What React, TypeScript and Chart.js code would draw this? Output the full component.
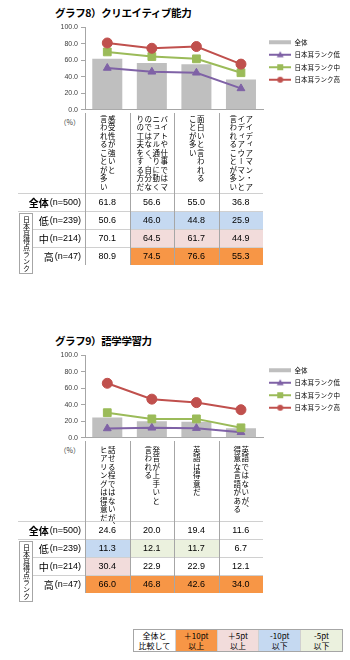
import React, { useEffect, useRef } from 'react';
import { Chart, registerables } from 'chart.js';
Chart.register(...registerables);

// ---------- data ----------
const seriesNames = ['全体', '日本耳ランク低', '日本耳ランク中', '日本耳ランク高'];
const rowHeads = ['全体', '低', '中', '高'];
const rowCounts = ['(n=500)', '(n=239)', '(n=214)', '(n=47)'];
const rankBoxLabel = '日本耳得点ランク';
const percentLabel = '（%）';
const yTickValues = [0, 20, 40, 60, 80, 100];

const g8Title = 'グラフ8）クリエイティブ能力';
const g8Categories = [
  ['感受性が強いと', '言われることが多い'],
  ['バイトや仕事ではマ', 'ニュアル通りに動く', 'のではなく、自分な', 'りの工夫をする方だ'],
  ['面白いと言われる', 'ことが多い'],
  ['アイディアマン・ア', 'イディアウーマンと', '言われることが多い'],
];
const g8Total = [61.8, 56.6, 55.0, 36.8];
const g8Low = [50.6, 46.0, 44.8, 25.9];
const g8Mid = [70.1, 64.5, 61.7, 44.9];
const g8High = [80.9, 74.5, 76.6, 55.3];
const g8Marked = [[0, 1, 1, 1], [0, 1, 1, 1], [0, 1, 1, 1]];

const g9Title = 'グラフ9）語学学習力';
const g9Categories = [
  ['話せる程ではないが、', 'ヒアリングは得意だ'],
  ['発音が上手いと', '言われる'],
  ['英語は得意だ'],
  ['英語ではないが、', '得意な言語がある'],
];
const g9Total = [24.6, 20.0, 19.4, 11.6];
const g9Low = [11.3, 12.1, 11.7, 6.7];
const g9Mid = [30.4, 22.9, 22.9, 12.1];
const g9High = [66.0, 46.8, 42.6, 34.0];
const g9Marked = [[1, 1, 1, 1], [1, 1, 1, 1], [1, 1, 1, 1]];

const keyLabels = [['全体と', '比較して'], ['＋10pt', '以上'], ['＋5pt', '以上'], ['-10pt', '以下'], ['-5pt', '以下']];

// ---------- styles ----------
const FONT = '"Noto Sans CJK JP", "Noto Sans", sans-serif';
const NUMFONT = '"Liberation Sans", Arial, sans-serif';
const C_BAR = '#bfbfbf';
const C_LOW = '#7f62a6';
const C_MID = '#9bbb59';
const C_HIGH = '#c0504d';
const C_AXIS = '#a6a6a6';
const C_LINE = '#d0d0d0';
const C_ORANGE = '#f79646';
const C_PINK = '#f2dcdb';
const C_BLUE = '#c5d9f1';
const C_GREEN = '#ebf1de';
const keyColors = ['#ffffff', C_ORANGE, C_PINK, C_BLUE, C_GREEN];

const PLOT_L = 85;
const PLOT_R = 263;
const CAT_W = (PLOT_R - PLOT_L) / 4;

function cellColor(diff: number) {
  if (diff >= 10) return C_ORANGE;
  if (diff >= 5) return C_PINK;
  if (diff <= -10) return C_BLUE;
  if (diff <= -5) return C_GREEN;
  return 'transparent';
}

function makeIcon(kind: string, color: string) {
  const c = document.createElement('canvas');
  c.width = 22;
  c.height = 10;
  const x = c.getContext('2d')!;
  if (kind === 'bar') {
    x.fillStyle = color;
    x.fillRect(0, 3, 22, 4);
    return c;
  }
  x.strokeStyle = color;
  x.lineWidth = 2;
  x.beginPath();
  x.moveTo(0, 5);
  x.lineTo(22, 5);
  x.stroke();
  x.fillStyle = color;
  if (kind === 'tri') {
    x.beginPath();
    x.moveTo(11, 1.5);
    x.lineTo(14.5, 7.5);
    x.lineTo(7.5, 7.5);
    x.closePath();
    x.fill();
  } else if (kind === 'rect') {
    x.fillRect(8, 2, 6, 6);
  } else {
    x.beginPath();
    x.arc(11, 5, 3, 0, Math.PI * 2);
    x.fill();
  }
  return c;
}

type GraphProps = {
  top: number;
  labelTop: number;
  title: string;
  cats: string[][];
  total: number[];
  low: number[];
  mid: number[];
  high: number[];
  marked: number[][];
};

function Graph({ top, labelTop, title, cats, total, low, mid, high, marked }: GraphProps) {
  const ref = useRef<HTMLCanvasElement>(null);

  useEffect(() => {
    const icons = [
      makeIcon('bar', C_BAR),
      makeIcon('tri', C_LOW),
      makeIcon('rect', C_MID),
      makeIcon('circle', C_HIGH),
    ];
    const chart = new Chart(ref.current!, {
      data: {
        labels: cats.map((c) => c.join('')),
        datasets: [
          {
            type: 'bar',
            label: seriesNames[0],
            data: total,
            backgroundColor: C_BAR,
            barPercentage: 0.674,
            categoryPercentage: 1,
            order: 4,
          },
          {
            type: 'line',
            label: seriesNames[1],
            data: low,
            borderColor: C_LOW,
            backgroundColor: C_LOW,
            borderWidth: 2,
            pointStyle: 'triangle',
            pointRadius: 4.5,
            pointBorderWidth: 1,
            order: 3,
          },
          {
            type: 'line',
            label: seriesNames[2],
            data: mid,
            borderColor: C_MID,
            backgroundColor: C_MID,
            borderWidth: 2,
            pointStyle: 'rect',
            pointRadius: 5.5,
            pointBorderWidth: 1,
            order: 2,
          },
          {
            type: 'line',
            label: seriesNames[3],
            data: high,
            borderColor: C_HIGH,
            backgroundColor: C_HIGH,
            borderWidth: 2,
            pointStyle: 'circle',
            pointRadius: 5,
            pointBorderWidth: 1,
            order: 1,
          },
        ],
      } as any,
      options: {
        responsive: false,
        animation: false,
        devicePixelRatio: 1,
        layout: { padding: { top: 7, bottom: 5, left: 0, right: 0 } },
        plugins: {
          tooltip: { enabled: false },
          legend: {
            position: 'right',
            align: 'start',
            maxWidth: 350 - PLOT_R,
            title: { display: true, text: '', font: { size: 5 }, padding: 0 },
            labels: {
              usePointStyle: true,
              pointStyleWidth: 22,
              boxHeight: 8,
              padding: 6,
              color: '#000',
              font: { size: 6.5, family: FONT },
              generateLabels: () =>
                seriesNames.map((name, i) => ({
                  text: name,
                  fillStyle: 'transparent',
                  strokeStyle: 'transparent',
                  lineWidth: 0,
                  pointStyle: icons[i],
                  datasetIndex: i,
                  hidden: false,
                  fontColor: '#000',
                })),
            },
          },
        },
        scales: {
          x: {
            offset: true,
            grid: { display: false, drawTicks: false },
            border: { color: C_AXIS },
            ticks: { display: false },
          },
          y: {
            min: 0,
            max: 100,
            afterFit: (s: any) => {
              s.width = PLOT_L;
            },
            afterBuildTicks: (s: any) => {
              s.ticks = yTickValues.map((v) => ({ value: v }));
            },
            ticks: {
              callback: (v: any) => Number(v).toFixed(1),
              font: { size: 7, family: NUMFONT },
              color: '#404040',
              padding: 3,
            },
            grid: { drawOnChartArea: false, tickLength: 4, color: C_AXIS },
            border: { color: C_AXIS },
          },
        },
      } as any,
    });
    return () => chart.destroy();
  }, []);

  const rows = [total, low, mid, high];
  const rowTops = [193, 211, 229, 247];
  const rowH = 18;

  return (
    <div style={{ position: 'absolute', left: 0, top, width: 350, height: 300 }}>
      <div
        style={{
          position: 'absolute',
          left: 55,
          top: 4,
          fontSize: 10.5,
          letterSpacing: '-0.4px',
          fontWeight: 700,
          lineHeight: '17px',
          whiteSpace: 'nowrap',
          color: '#000',
        }}
      >
        {title}
      </div>
      <canvas
        ref={ref}
        width={350}
        height={97}
        style={{ position: 'absolute', left: 0, top: 20, width: 350, height: 97 }}
      />
      <div
        style={{
          position: 'absolute',
          left: 0,
          width: 80,
          top: 118,
          textAlign: 'right',
          fontSize: 7,
          lineHeight: '9px',
          color: '#404040',
        }}
      >
        {percentLabel}
      </div>
      {/* category labels */}
      {cats.map((cols, i) => (
        <div
          key={'c' + i}
          style={{
            position: 'absolute',
            left: PLOT_L + i * CAT_W,
            width: CAT_W,
            top: labelTop,
            display: 'flex',
            justifyContent: 'center',
          }}
        >
          <div
            style={{
              writingMode: 'vertical-rl',
              fontSize: 7.5,
              lineHeight: '8px',
              letterSpacing: '1px',
              whiteSpace: 'pre',
              color: '#000',
            }}
          >
            {cols.join('\n')}
          </div>
        </div>
      ))}
      {/* colored cells */}
      {[1, 2, 3].map((r) =>
        rows[r].map((v, c) => {
          if (!marked[r - 1][c]) return null;
          const col = cellColor(v - total[c]);
          return (
            <div
              key={'bg' + r + c}
              style={{
                position: 'absolute',
                left: PLOT_L + c * CAT_W + 1,
                width: CAT_W - 1,
                top: rowTops[r] + 1,
                height: rowH - 1,
                background: col,
              }}
            />
          );
        })
      )}
      {/* horizontal lines */}
      {rowTops.map((y, r) => (
        <div
          key={'h' + r}
          style={{
            position: 'absolute',
            left: r < 2 ? 18 : 33,
            width: PLOT_R - (r < 2 ? 18 : 33),
            top: y,
            height: 1,
            background: C_LINE,
          }}
        />
      ))}
      {/* vertical lines */}
      {[0, 1, 2, 3].map((i) => (
        <div
          key={'v' + i}
          style={{
            position: 'absolute',
            left: Math.round(PLOT_L + i * CAT_W),
            width: 1,
            top: 113,
            height: 265 - 113,
            background: C_AXIS,
          }}
        />
      ))}
      {/* row labels */}
      {rowHeads.map((h, r) => (
        <div
          key={'rl' + r}
          style={{
            position: 'absolute',
            left: 0,
            width: 81,
            top: rowTops[r],
            height: rowH,
            display: 'flex',
            alignItems: 'center',
            justifyContent: 'flex-end',
            whiteSpace: 'nowrap',
            color: '#000',
          }}
        >
          <span style={{ fontSize: 10, fontWeight: r === 0 ? 700 : 400 }}>{h}</span>
          <span style={{ fontSize: 9, fontFamily: NUMFONT, marginLeft: 1 }}>{rowCounts[r]}</span>
        </div>
      ))}
      {/* numbers */}
      {rows.map((vals, r) =>
        vals.map((v, c) => (
          <div
            key={'n' + r + c}
            style={{
              position: 'absolute',
              left: PLOT_L + c * CAT_W,
              width: CAT_W,
              top: rowTops[r],
              height: rowH,
              display: 'flex',
              alignItems: 'center',
              justifyContent: 'center',
              fontSize: 9,
              fontFamily: NUMFONT,
              color: '#000',
            }}
          >
            {v.toFixed(1)}
          </div>
        ))
      )}
      {/* rank box */}
      <div
        style={{
          position: 'absolute',
          left: 19,
          top: 213,
          width: 12,
          height: 59,
          border: '1px solid ' + C_AXIS,
          display: 'flex',
          alignItems: 'center',
          justifyContent: 'center',
          background: '#fff',
        }}
      >
        <div style={{ writingMode: 'vertical-rl', fontSize: 7, lineHeight: '7px', color: '#000' }}>
          {rankBoxLabel}
        </div>
      </div>
    </div>
  );
}

function Key() {
  return (
    <div
      style={{
        position: 'absolute',
        left: 133,
        top: 629,
        width: 210,
        height: 23,
        display: 'flex',
        border: '1px solid ' + C_AXIS,
        boxSizing: 'border-box',
        background: '#fff',
      }}
    >
      {keyLabels.map((lines, i) => (
        <div
          key={i}
          style={{
            flex: 1,
            background: keyColors[i],
            borderLeft: i > 0 ? '1px solid ' + C_LINE : 'none',
            display: 'flex',
            flexDirection: 'column',
            alignItems: 'center',
            justifyContent: 'center',
            fontSize: 8,
            lineHeight: '10px',
            color: '#000',
          }}
        >
          <span>{lines[0]}</span>
          <span>{lines[1]}</span>
        </div>
      ))}
    </div>
  );
}

export default function App() {
  return (
    <div
      style={{
        position: 'absolute',
        left: 0,
        top: 0,
        width: 350,
        height: 660,
        background: '#fff',
        fontFamily: FONT,
        overflow: 'hidden',
      }}
    >
      <Graph
        top={0}
        labelTop={115}
        title={g8Title}
        cats={g8Categories}
        total={g8Total}
        low={g8Low}
        mid={g8Mid}
        high={g8High}
        marked={g8Marked}
      />
      <Graph
        top={328}
        labelTop={118}
        title={g9Title}
        cats={g9Categories}
        total={g9Total}
        low={g9Low}
        mid={g9Mid}
        high={g9High}
        marked={g9Marked}
      />
      <Key />
    </div>
  );
}
